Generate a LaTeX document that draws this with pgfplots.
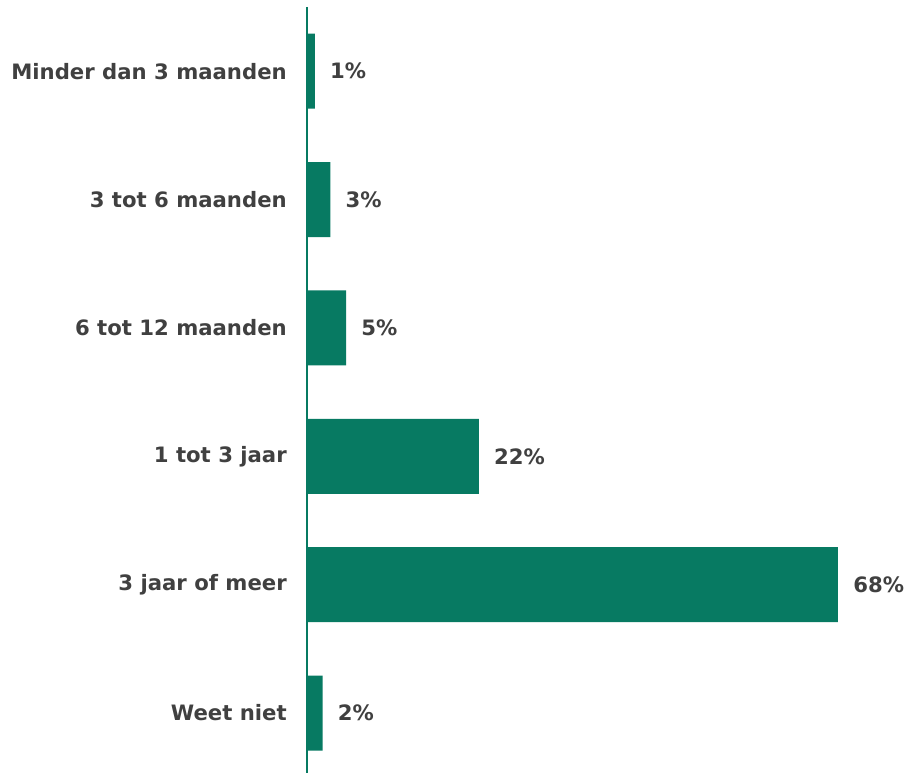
\documentclass[border=0pt]{standalone}
\usepackage{pgfplots}
\pgfplotsset{compat=1.18}
\usepackage{fontspec}
\setmainfont{DejaVu Sans}
\definecolor{bargreen}{HTML}{077A62}
\definecolor{txtgray}{HTML}{404040}
\begin{document}
\begin{tikzpicture}[x=1pt,y=1pt]
\fontsize{15.9}{18}\selectfont\bfseries
\begin{axis}[
  at={(0,0)}, anchor=south west,
  scale only axis,
  width=445.1pt, height=574.5pt,
  xbar, bar width=0.584,
  xmin=0, xmax=76,
  ymin=-0.5, ymax=5.467,
  y dir=reverse,
  axis x line=none,
  axis y line*=left,
  y axis line style={bargreen, line width=1.2pt},
  ytick={0,1,2,3,4,5},
  yticklabels={Minder dan 3 maanden,3 tot 6 maanden,6 tot 12 maanden,1 tot 3 jaar,3 jaar of meer,Weet niet},
  major tick length=0pt,
  /pgf/number format/assume math mode=true,
  yticklabel style={anchor=east, inner sep=0pt, xshift=-15pt, text=txtgray, font=\fontsize{15.9}{18}\selectfont\bfseries},
  nodes near coords={\pgfmathprintnumber[assume math mode=true]{\pgfplotspointmeta}\%},
  nodes near coords style={anchor=west, inner sep=0pt, xshift=11.25pt, text=txtgray, font=\fontsize{15.9}{18}\selectfont\bfseries},
  clip=false,
]
\addplot[fill=bargreen, draw=none] coordinates {(1,0) (3,1) (5,2) (22,3) (68,4) (2,5)};
\end{axis}
\path[use as bounding box] (-230.25pt,0) rectangle (455.25pt,579.75pt);
\end{tikzpicture}
\end{document}
